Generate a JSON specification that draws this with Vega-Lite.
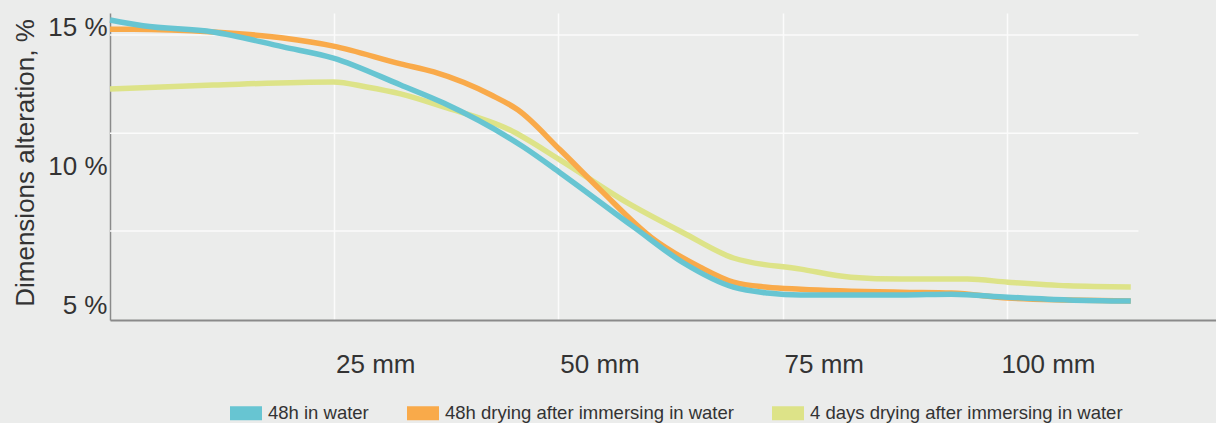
{
  "$schema": "https://vega.github.io/schema/vega-lite/v6.json",
  "autosize": {"type": "none"},
  "padding": {"left": 110, "top": 13, "right": 0, "bottom": 103},
  "width": 1106,
  "height": 307,
  "background": "#ebeceb",
  "config": {
    "view": {"stroke": null, "fill": "#ebeceb"},
    "font": "Liberation Sans, Arial, sans-serif"
  },
  "datasets": {
    "grid": [{"v": 14.73}, {"v": 11.2}, {"v": 7.68}],
    "lines": [
      {"series": "4 days drying after immersing in water", "mm": 0, "v": 12.79},
      {"series": "4 days drying after immersing in water", "mm": 11.5, "v": 12.93},
      {"series": "4 days drying after immersing in water", "mm": 24.9, "v": 13.04},
      {"series": "4 days drying after immersing in water", "mm": 28.6, "v": 12.86},
      {"series": "4 days drying after immersing in water", "mm": 32.4, "v": 12.61},
      {"series": "4 days drying after immersing in water", "mm": 37.2, "v": 12.14},
      {"series": "4 days drying after immersing in water", "mm": 44.6, "v": 11.31},
      {"series": "4 days drying after immersing in water", "mm": 50.2, "v": 10.23},
      {"series": "4 days drying after immersing in water", "mm": 57.7, "v": 8.69},
      {"series": "4 days drying after immersing in water", "mm": 63.95, "v": 7.61},
      {"series": "4 days drying after immersing in water", "mm": 69.5, "v": 6.71},
      {"series": "4 days drying after immersing in water", "mm": 77.0, "v": 6.31},
      {"series": "4 days drying after immersing in water", "mm": 82.6, "v": 6.02},
      {"series": "4 days drying after immersing in water", "mm": 88.2, "v": 5.95},
      {"series": "4 days drying after immersing in water", "mm": 95.6, "v": 5.95},
      {"series": "4 days drying after immersing in water", "mm": 100.1, "v": 5.84},
      {"series": "4 days drying after immersing in water", "mm": 106.8, "v": 5.71},
      {"series": "4 days drying after immersing in water", "mm": 113.8, "v": 5.67},
      {"series": "48h drying after immersing in water", "mm": 0, "v": 14.94},
      {"series": "48h drying after immersing in water", "mm": 2.57, "v": 14.94},
      {"series": "48h drying after immersing in water", "mm": 11.5, "v": 14.84},
      {"series": "48h drying after immersing in water", "mm": 19.3, "v": 14.62},
      {"series": "48h drying after immersing in water", "mm": 24.9, "v": 14.33},
      {"series": "48h drying after immersing in water", "mm": 32.4, "v": 13.69},
      {"series": "48h drying after immersing in water", "mm": 36.1, "v": 13.4},
      {"series": "48h drying after immersing in water", "mm": 42.5, "v": 12.57},
      {"series": "48h drying after immersing in water", "mm": 45.5, "v": 12.03},
      {"series": "48h drying after immersing in water", "mm": 50.2, "v": 10.59},
      {"series": "48h drying after immersing in water", "mm": 54.7, "v": 9.15},
      {"series": "48h drying after immersing in water", "mm": 60.3, "v": 7.46},
      {"series": "48h drying after immersing in water", "mm": 65.8, "v": 6.38},
      {"series": "48h drying after immersing in water", "mm": 69.5, "v": 5.84},
      {"series": "48h drying after immersing in water", "mm": 73.3, "v": 5.66},
      {"series": "48h drying after immersing in water", "mm": 77.0, "v": 5.59},
      {"series": "48h drying after immersing in water", "mm": 88.2, "v": 5.48},
      {"series": "48h drying after immersing in water", "mm": 93.8, "v": 5.45},
      {"series": "48h drying after immersing in water", "mm": 100.1, "v": 5.27},
      {"series": "48h drying after immersing in water", "mm": 106.8, "v": 5.2},
      {"series": "48h drying after immersing in water", "mm": 113.8, "v": 5.16},
      {"series": "48h in water", "mm": 0, "v": 15.27},
      {"series": "48h in water", "mm": 3.68, "v": 15.06},
      {"series": "48h in water", "mm": 11.5, "v": 14.84},
      {"series": "48h in water", "mm": 19.3, "v": 14.3},
      {"series": "48h in water", "mm": 24.9, "v": 13.9},
      {"series": "48h in water", "mm": 32.4, "v": 12.93},
      {"series": "48h in water", "mm": 37.2, "v": 12.28},
      {"series": "48h in water", "mm": 46.1, "v": 10.7},
      {"series": "48h in water", "mm": 50.2, "v": 9.77},
      {"series": "48h in water", "mm": 58.4, "v": 7.82},
      {"series": "48h in water", "mm": 63.95, "v": 6.53},
      {"series": "48h in water", "mm": 69.5, "v": 5.66},
      {"series": "48h in water", "mm": 73.3, "v": 5.45},
      {"series": "48h in water", "mm": 77.0, "v": 5.38},
      {"series": "48h in water", "mm": 88.2, "v": 5.38},
      {"series": "48h in water", "mm": 93.8, "v": 5.41},
      {"series": "48h in water", "mm": 100.1, "v": 5.3},
      {"series": "48h in water", "mm": 106.8, "v": 5.2},
      {"series": "48h in water", "mm": 113.8, "v": 5.16}
    ]
  },
  "layer": [
    {
      "data": {"name": "grid"},
      "mark": {"type": "rule", "color": "#fbfbfb", "strokeWidth": 1.5},
      "encoding": {
        "x": {"datum": 0, "type": "quantitative", "scale": {"domain": [0, 123.3], "nice": false, "zero": false}},
        "x2": {"datum": 114.65},
        "y": {"field": "v", "type": "quantitative", "scale": {"domain": [4.48, 15.52], "nice": false, "zero": false}}
      }
    },
    {
      "data": {"name": "lines"},
      "mark": {"type": "line", "strokeWidth": 5.5, "interpolate": "monotone"},
      "encoding": {
        "x": {
          "field": "mm", "type": "quantitative",
          "scale": {"domain": [0, 123.3], "nice": false, "zero": false},
          "axis": {
            "title": null, "values": [25, 50, 75, 100],
            "labelExpr": "datum.value + ' mm'",
            "grid": true, "gridColor": "#fbfbfb", "gridWidth": 1.5,
            "ticks": false, "tickSize": 0,
            "domainColor": "#8a8a8a", "domainWidth": 2,
            "labelFontSize": 26, "labelColor": "#333333",
            "labelBaseline": "top", "labelPadding": 31, "labelOffset": 41,
            "labelFlush": false
          }
        },
        "y": {
          "field": "v", "type": "quantitative",
          "scale": {"domain": [4.48, 15.52], "nice": false, "zero": false},
          "axis": {
            "title": "Dimensions alteration, %",
            "titleFontSize": 26, "titleFontWeight": "normal", "titleColor": "#333333",
            "titleX": -77, "titleY": 149.5, "titleBaseline": "alphabetic", "titleAngle": -90, "titleAlign": "center",
            "values": [15, 10, 5],
            "labelExpr": "datum.value + ' %'",
            "grid": false, "ticks": false, "tickSize": 0,
            "domainColor": "#8a8a8a", "domainWidth": 1.5,
            "labelFontSize": 26, "labelColor": "#333333", "labelPadding": 3,
            "labelFlush": false
          }
        },
        "color": {
          "field": "series", "type": "nominal",
          "scale": {
            "domain": ["48h in water", "48h drying after immersing in water", "4 days drying after immersing in water"],
            "range": ["#67c5d2", "#f9aa4a", "#dde388"]
          },
          "legend": {
            "title": null, "orient": "none", "direction": "horizontal",
            "legendX": 120, "legendY": 384, "padding": 0,
            "symbolType": "M-1,-0.4375H1V0.4375H-1Z", "symbolSize": 1024,
            "symbolStrokeWidth": 0,
            "labelFontSize": 18.5, "labelColor": "#333333", "labelOffset": 6,
            "columnPadding": 38, "labelLimit": 500,
            "encode": {"symbols": {"update": {"fill": {"scale": "color", "field": "value"}, "strokeWidth": {"value": 0}, "opacity": {"value": 1}}}}
          }
        }
      }
    }
  ]
}
